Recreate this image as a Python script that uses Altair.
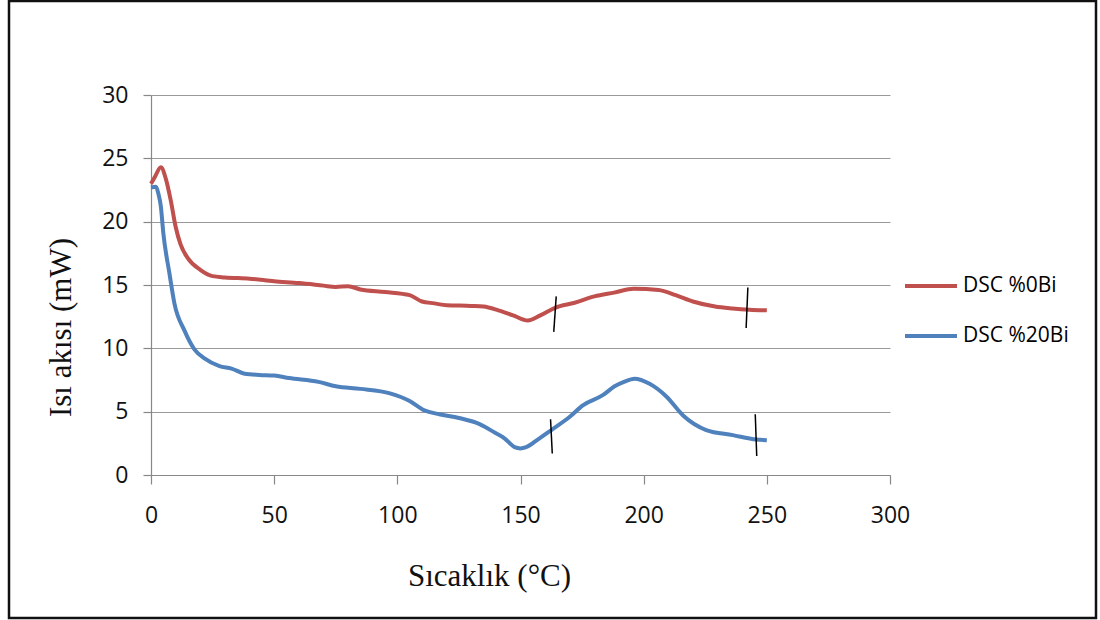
import altair as alt
import pandas as pd

# Series values
red_x = [0, 1.5, 4, 6, 8, 10, 12, 15, 20, 25, 30, 40, 50, 60, 70, 75, 80, 85, 95, 105,
         110, 115, 120, 130, 135, 141, 147, 153, 158, 164, 172, 180, 188, 196, 206, 213,
         220, 229, 236, 243, 250]
red_y = [23.0, 23.5, 24.3, 23.4, 21.7, 19.6, 18.2, 17.1, 16.2, 15.7, 15.6, 15.5, 15.3, 15.15,
         14.95, 14.85, 14.9, 14.65, 14.45, 14.2, 13.7, 13.55, 13.4, 13.35, 13.3, 13.0, 12.6,
         12.2, 12.6, 13.2, 13.6, 14.1, 14.4, 14.7, 14.6, 14.2, 13.7, 13.3, 13.15, 13.05, 13.0]

blue_x = [0, 2, 3, 4, 5, 7.5, 9.5, 13.6, 17.7, 21.7, 27.8, 32.7, 38, 44, 50, 56, 68, 75, 85,
          97, 105, 111, 117, 125, 133.6, 139.5, 143.5, 147.6, 150, 152.3, 157, 162.5, 170,
          175.3, 183.4, 188.2, 192, 196.3, 202.4, 209.2, 216, 225.4, 236.2, 245.7, 250]
blue_y = [22.7, 22.75, 22.2, 21.2, 19.1, 15.9, 13.55, 11.4, 9.9, 9.2, 8.6, 8.4, 8.0, 7.9, 7.85,
          7.65, 7.35, 7.0, 6.8, 6.45, 5.85, 5.1, 4.8, 4.5, 4.0, 3.35, 2.9, 2.2, 2.1, 2.2, 2.8,
          3.55, 4.6, 5.5, 6.3, 7.0, 7.35, 7.6, 7.2, 6.2, 4.7, 3.55, 3.15, 2.8, 2.75]

series_names = ["DSC %0Bi", "DSC %20Bi"]
series_colors = ["#C0504D", "#4F81BD"]

# Hand-drawn black slash marks (start/end in data units)
slash_x1 = [164.5, 242.3, 162.2, 245.3]
slash_y1 = [14.1, 14.8, 4.4, 4.8]
slash_x2 = [163.5, 241.6, 162.9, 245.9]
slash_y2 = [11.3, 11.6, 1.7, 1.5]

x_ticks = [0, 50, 100, 150, 200, 250, 300]
y_ticks = [0, 5, 10, 15, 20, 25, 30]

rows = []
for i, (x, y) in enumerate(zip(red_x, red_y)):
    rows.append({"T": x, "Q": y, "series": series_names[0], "ord": i})
for i, (x, y) in enumerate(zip(blue_x, blue_y)):
    rows.append({"T": x, "Q": y, "series": series_names[1], "ord": i})
df = pd.DataFrame(rows)

slash_df = pd.DataFrame({"x1": slash_x1, "y1": slash_y1, "x2": slash_x2, "y2": slash_y2})

xscale = alt.Scale(domain=[0, 300], nice=False)
yscale = alt.Scale(domain=[0, 30], nice=False)

axis_common = dict(
    domainColor="#888888", tickColor="#888888", gridColor="#999999",
    domainWidth=1.2, tickWidth=1.2, gridWidth=1.2,
    labelFont="Open Sans", labelFontSize=23, labelColor="#111111",
    labelFlush=False,
    titleFont="Liberation Serif", titleFontSize=31, titleFontWeight="normal",
    titleColor="#111111",
)

lines = alt.Chart(df).mark_line(strokeWidth=4, interpolate="monotone").encode(
    x=alt.X("T:Q", scale=xscale,
            axis=alt.Axis(values=x_ticks, grid=False, title="Sıcaklık (°C)",
                          titleX=338, titleY=110, titleBaseline="alphabetic",
                          titleAlign="center",
                          labelPadding=20, tickSize=9, **axis_common)),
    y=alt.Y("Q:Q", scale=yscale,
            axis=alt.Axis(values=y_ticks, grid=True, title="Isı akısı (mW)",
                          titleX=-81, titleY=232, titleAngle=270,
                          titleBaseline="alphabetic", titleAlign="center",
                          labelPadding=15, tickSize=8, **axis_common)),
    color=alt.Color("series:N",
                    scale=alt.Scale(domain=series_names, range=series_colors),
                    legend=alt.Legend(title=None, orient="none", legendX=752, legendY=163,
                                      symbolType="stroke", symbolSize=2704,
                                      symbolStrokeWidth=4, labelFont="Open Sans",
                                      labelFontSize=21, labelColor="#000000",
                                      labelOffset=4, rowPadding=12)),
    order="ord:Q",
)

slashes = alt.Chart(slash_df).mark_rule(color="#000000", strokeWidth=1.5).encode(
    x="x1:Q", y="y1:Q", x2="x2:Q", y2="y2:Q"
)

frame = alt.Chart(alt.Data(values=[{"a": 1}])).mark_rect(
    fill="transparent", stroke="#111111", strokeWidth=2.5
).encode(
    x=alt.value(-142), x2=alt.value(945), y=alt.value(-94), y2=alt.value(523)
)

chart = alt.layer(lines, slashes, frame).properties(
    width=739, height=380,
    autosize=alt.AutoSizeParams(type="none"),
    padding={"left": 151, "top": 95, "right": 210, "bottom": 145},
    background="white",
).configure_view(stroke=None)

chart.save("out.html", embed_options={"renderer": "svg", "actions": False})
